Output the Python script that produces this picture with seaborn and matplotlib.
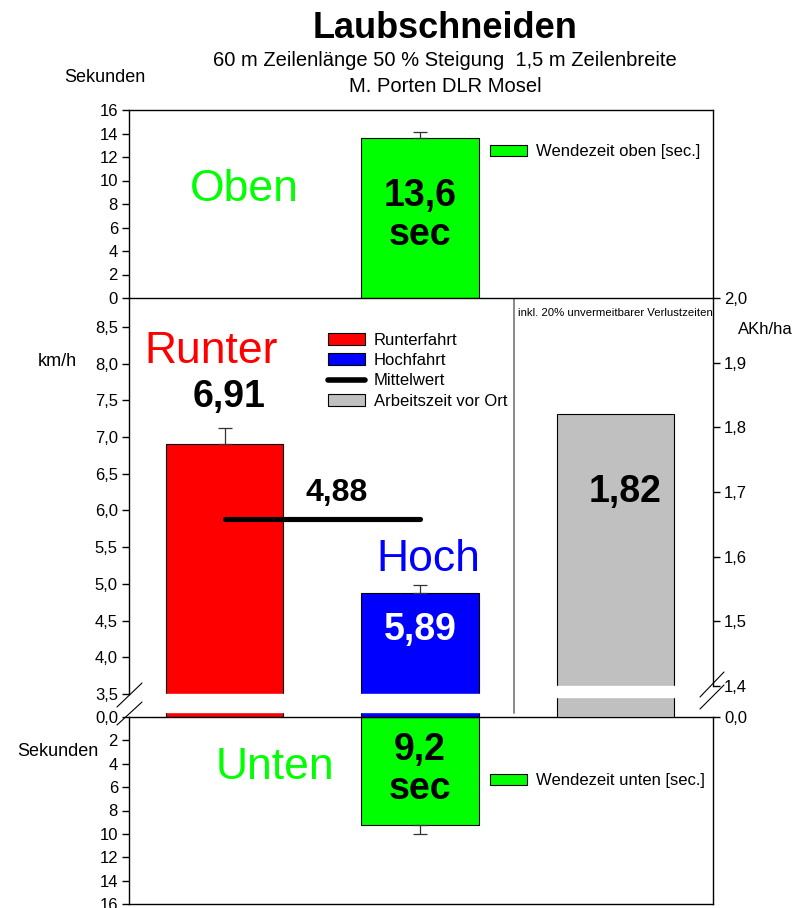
import numpy as np
import matplotlib
matplotlib.use("Agg")
import matplotlib.pyplot as plt
from matplotlib.patches import Patch
from matplotlib.lines import Line2D
from matplotlib.ticker import FuncFormatter
import seaborn as sns

# --- data ---
categories = ["Runterfahrt", "Hochfahrt", "Arbeitszeit vor Ort"]
speed_kmh = [6.91, 4.88]          # Runter / Hoch
speed_err = [0.21, 0.11]
mean_kmh = 5.89                   # Mittelwert
akh_ha = [1.82]                   # Arbeitszeit vor Ort
wende_oben = [13.6]
wende_oben_err = [0.5]
wende_unten = [9.2]
wende_unten_err = [0.85]

speed_labels = ["6,91", "5,89"]
mean_label = "4,88"
akh_label = "1,82"
oben_label = "13,6\nsec"
unten_label = "9,2\nsec"

RED, BLUE, GREEN, GRAY = "#ff0000", "#0000ff", "#00ff00", "#c0c0c0"

sns.set_style("ticks")
plt.rcParams["font.family"] = ["Liberation Sans", "DejaVu Sans"]
plt.rcParams.update({"text.color": "black", "axes.labelcolor": "black",
                     "xtick.color": "black", "ytick.color": "black",
                     "axes.edgecolor": "black"})

W, H = 798, 908
fig = plt.figure(figsize=(W / 100, H / 100), dpi=100)


def fig_box(x0, y0, x1, y1):
    return [x0 / W, 1 - y1 / H, (x1 - x0) / W, (y1 - y0) / H]


def broken_scale(v_break, px_break, v_top, px_top):
    def fwd(v):
        v = np.asarray(v, float)
        return np.where(v < v_break, v / v_break * px_break,
                        px_break + (v - v_break) / (v_top - v_break) * (px_top - px_break))

    def inv(p):
        p = np.asarray(p, float)
        return np.where(p < px_break, p / px_break * v_break,
                        v_break + (p - px_break) / (px_top - px_break) * (v_top - v_break))
    return fwd, inv


comma = FuncFormatter(lambda v, p: f"{v:.1f}".replace(".", ","))
XLIM = (-0.49, 2.5)
tick_kw = dict(direction="out", length=5, width=1, labelsize=12, colors="black", pad=3)
bar_kw = dict(width=0.6, edgecolor="black", linewidth=0.8, saturation=1)
err_kw = dict(fmt="none", ecolor="#333333", elinewidth=0.9, capsize=4.7, capthick=0.9)
leg_kw = dict(frameon=False, fontsize=12, handlelength=2.2, handletextpad=0.55,
              borderpad=0, borderaxespad=0)

ax_mid = fig.add_axes(fig_box(129, 298, 713, 717))
ax_bot = fig.add_axes(fig_box(129, 717, 713, 904))
ax_top = fig.add_axes(fig_box(129, 110, 713, 298))
for ax in (ax_mid, ax_bot, ax_top):
    ax.patch.set_visible(False)

# ---------- top panel: Wendezeit oben ----------
sns.barplot(x=[categories[1]], y=wende_oben, order=categories, color=GREEN,
            ax=ax_top, **bar_kw)
ax_top.errorbar([1], wende_oben, yerr=[[0], wende_oben_err], **err_kw)
ax_top.set_ylim(0, 16)
ax_top.set_yticks(range(0, 17, 2))
ax_top.set_xlim(*XLIM)
ax_top.set_xticks([])
ax_top.set_xlabel("")
ax_top.set_ylabel("")
ax_top.tick_params(axis="y", **tick_kw)
ax_top.text(0.1, 9.2, "Oben", color=GREEN, fontsize=32, ha="center", va="center")
ax_top.text(1, 7.0, oben_label, fontsize=27, weight="bold", ha="center", va="center",
            linespacing=1.1)
ax_top.legend(handles=[Patch(facecolor=GREEN, edgecolor="black", lw=0.8,
                             label="Wendezeit oben [sec.]")],
              loc="center left", bbox_to_anchor=(0.618, 0.777), **leg_kw)

# ---------- middle panel: speeds (left) and AKh/ha (right) ----------
ax_mid.set_yscale("function", functions=broken_scale(3.5, 23, 8.895, 419))
sns.barplot(x=categories[:2], y=speed_kmh, order=categories, hue=categories[:2],
            palette=[RED, BLUE], legend=False, ax=ax_mid, **bar_kw)
ax_mid.errorbar([0, 1], speed_kmh, yerr=[[0, 0], speed_err], **err_kw)
ax_mid.plot([0, 1], [mean_kmh, mean_kmh], color="black", lw=3.7, solid_capstyle="round")
ax_mid.set_ylim(0, 8.895)
ax_mid.set_yticks([0, 3.5, 4.0, 4.5, 5.0, 5.5, 6.0, 6.5, 7.0, 7.5, 8.0, 8.5])
ax_mid.yaxis.set_major_formatter(comma)
ax_mid.tick_params(axis="y", **tick_kw)
ax_mid.set_xlim(*XLIM)
ax_mid.set_xlabel("")
ax_mid.set_ylabel("")
for s in ("top", "bottom", "right"):
    ax_mid.spines[s].set_visible(False)
ax_mid.spines["left"].set_bounds(3.5, 8.895)
ax_mid.axhspan(0.76, 3.5, xmin=0.05, xmax=0.62, color="white", zorder=3)
ax_mid.axvline(1.48, ymin=0.0095, ymax=1, color="#808080", lw=1.3, zorder=6)

ax_mid.text(-0.07, 8.16, "Runter", color=RED, fontsize=32, ha="center", va="center")
ax_mid.text(1.04, 5.33, "Hoch", color=BLUE, fontsize=32, ha="center", va="center")
ax_mid.text(0.02, 7.55, speed_labels[0], fontsize=27, weight="bold", ha="center", va="center")
ax_mid.text(1, 4.37, speed_labels[1], fontsize=27, weight="bold", color="white",
            ha="center", va="center", zorder=5)
ax_mid.text(0.574, 6.24, mean_label, fontsize=23, weight="bold", ha="center", va="center")
ax_mid.legend(handles=[Patch(facecolor=RED, edgecolor="black", lw=0.8, label="Runterfahrt"),
                       Patch(facecolor=BLUE, edgecolor="black", lw=0.8, label="Hochfahrt"),
                       Line2D([], [], color="black", lw=4, label="Mittelwert"),
                       Patch(facecolor=GRAY, edgecolor="black", lw=0.8,
                             label="Arbeitszeit vor Ort")],
              loc="upper left", bbox_to_anchor=(0.341, 0.917), labelspacing=0.32, **leg_kw)

ax_r = ax_mid.twinx()
ax_r.patch.set_visible(False)
ax_r.set_yscale("function", functions=broken_scale(1.4, 31, 2.0, 419))
sns.barplot(x=[categories[2]], y=akh_ha, order=categories, color=GRAY, ax=ax_r, **bar_kw)
ax_r.set_ylim(0, 2.0)
ax_r.set_yticks([0, 1.4, 1.5, 1.6, 1.7, 1.8, 1.9, 2.0])
ax_r.yaxis.set_major_formatter(comma)
ax_r.tick_params(axis="y", **tick_kw)
ax_r.set_xlim(*XLIM)
ax_r.set_xticks([])
ax_mid.set_xticks([])
ax_r.set_xlabel("")
ax_r.set_ylabel("")
for s in ("top", "bottom", "left"):
    ax_r.spines[s].set_visible(False)
ax_r.spines["right"].set_bounds(1.4, 2.0)
ax_r.axhspan(0.903, 1.4, xmin=0.72, xmax=0.945, color="white", zorder=3)
ax_r.text(2.05, 1.70, akh_label, fontsize=27, weight="bold", ha="center", va="center")
ax_r.text(2.497, 1.977, "inkl. 20% unvermeitbarer Verlustzeiten", fontsize=8.2,
          ha="right", va="center")

# ---------- bottom panel: Wendezeit unten ----------
sns.barplot(x=[categories[1]], y=wende_unten, order=categories, color=GREEN,
            ax=ax_bot, **bar_kw)
ax_bot.errorbar([1], wende_unten, yerr=[[0], wende_unten_err], **err_kw)
ax_bot.set_ylim(16, 0)
ax_bot.set_yticks(range(2, 17, 2))
ax_bot.set_xlim(*XLIM)
ax_bot.set_xticks([])
ax_bot.set_xlabel("")
ax_bot.set_ylabel("")
ax_bot.tick_params(axis="y", **tick_kw)
ax_bot.text(0.256, 4.36, "Unten", color=GREEN, fontsize=32, ha="center", va="center")
ax_bot.text(1, 4.5, unten_label, fontsize=27, weight="bold", ha="center", va="center",
            linespacing=1.1)
ax_bot.legend(handles=[Patch(facecolor=GREEN, edgecolor="black", lw=0.8,
                             label="Wendezeit unten [sec.]")],
              loc="center left", bbox_to_anchor=(0.618, 0.658), **leg_kw)

for ax in (ax_top, ax_mid, ax_r, ax_bot):
    for sp in ax.spines.values():
        sp.set_color("black")
        sp.set_linewidth(1.0)

# break marks
for (x0, y0, x1, y1) in [(117, 707, 142, 683), (117, 725, 142, 702),
                         (700, 697, 724, 672), (700, 709, 724, 685)]:
    fig.add_artist(Line2D([x0 / W, x1 / W], [1 - y0 / H, 1 - y1 / H], color="black",
                          lw=0.8, transform=fig.transFigure))

# titles and axis labels
fig.text(445 / W, 1 - 28 / H, "Laubschneiden", fontsize=26, weight="bold",
         ha="center", va="center")
fig.text(445 / W, 1 - 60 / H, "60 m Zeilenlänge 50 % Steigung  1,5 m Zeilenbreite",
         fontsize=14.5, ha="center", va="center")
fig.text(445 / W, 1 - 86 / H, "M. Porten DLR Mosel", fontsize=14.5, ha="center", va="center")
fig.text(105 / W, 1 - 78 / H, "Sekunden", fontsize=13, ha="center", va="center")
fig.text(57 / W, 1 - 362 / H, "km/h", fontsize=13, ha="center", va="center")
fig.text(765 / W, 1 - 330 / H, "AKh/ha", fontsize=12, ha="center", va="center")
fig.text(58 / W, 1 - 752 / H, "Sekunden", fontsize=13, ha="center", va="center")

fig.savefig("out.png", dpi=100)
